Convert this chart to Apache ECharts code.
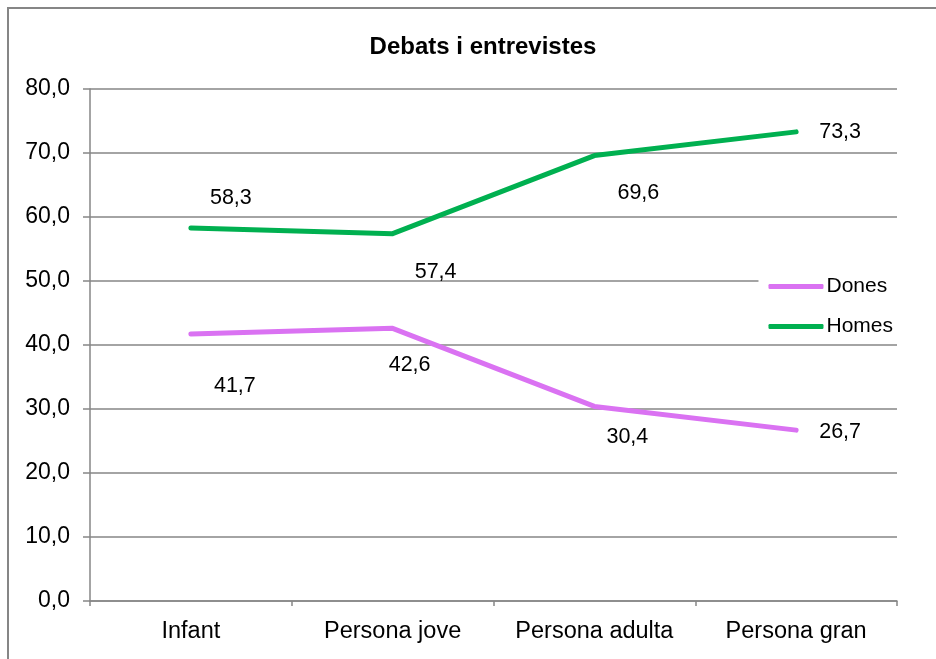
<!DOCTYPE html>
<html>
<head>
<meta charset="utf-8">
<script src="https://cdn.jsdelivr.net/npm/echarts@6/dist/echarts.min.js"></script>
<style>html,body{margin:0;padding:0;background:#fff}#c{width:936px;height:659px}</style>
</head>
<body>
<div id="c"></div>
<script>
const categories = ['Infant', 'Persona jove', 'Persona adulta', 'Persona gran'];
const dones = [41.7, 42.6, 30.4, 26.7];
const homes = [58.3, 57.4, 69.6, 73.3];
const yTicks = { min: 0, max: 80, interval: 10 };

// label offsets (style only)
const donesLabelOffsets = [[44, 52], [17, 37], [33, 31], [44, 2]];
const homesLabelOffsets = [[40, -30], [43, 38], [44, 38], [44, 0]];

const fmt = v => Number(v).toFixed(1).replace('.', ',');
const font = 'Liberation Sans, Arial, sans-serif';

function buildData(vals, offs) {
  return vals.map((v, i) => ({
    value: v,
    label: { offset: offs[i] }
  }));
}

const chart = echarts.init(document.getElementById('c'), null, { renderer: 'canvas' });
chart.setOption({
  animation: false,
  backgroundColor: '#fff',
  title: {
    text: 'Debats i entrevistes',
    left: 478, textAlign: 'center', top: 30,
    textStyle: { fontFamily: font, fontWeight: 'bold', fontSize: 24, color: '#000' }
  },
  graphic: [{
    type: 'rect', shape: { x: 8, y: 8, width: 1000, height: 1000 },
    style: { fill: 'none', stroke: '#868686', lineWidth: 2 }, z: 100
  }],
  legend: {
    orient: 'vertical', right: 39, top: 270,
    backgroundColor: '#fff', padding: [6, 4, 6, 10],
    itemWidth: 55, itemHeight: 5, itemGap: 19,
    icon: 'roundRect',
    textStyle: { fontFamily: font, fontSize: 21, color: '#000', padding: [0, 0, 0, -2] },
    data: ['Dones', 'Homes'], z: 10
  },
  grid: { left: 90, right: 39, top: 89, bottom: 58, containLabel: false },
  xAxis: {
    type: 'category', data: categories, boundaryGap: true,
    axisLine: { lineStyle: { color: '#868686', width: 1.5 } },
    axisTick: { show: true, interval: 0, length: 5, alignWithLabel: false, lineStyle: { color: '#868686', width: 1.5 } },
    axisLabel: { interval: 0, hideOverlap: false, fontFamily: font, fontSize: 23.5, color: '#000', margin: 19 }
  },
  yAxis: {
    type: 'value', min: yTicks.min, max: yTicks.max, interval: yTicks.interval,
    axisLine: { show: true, lineStyle: { color: '#868686', width: 1.5 } },
    axisTick: { show: true, length: 7, lineStyle: { color: '#868686', width: 1.5 } },
    splitLine: { lineStyle: { color: '#868686', width: 1.5 } },
    axisLabel: { fontFamily: font, fontSize: 23, color: '#000', margin: 20, formatter: fmt, padding: [3, 0, 0, 0] }
  },
  series: [
    {
      name: 'Dones', type: 'line', data: buildData(dones, donesLabelOffsets),
      color: '#DA72F2',
      lineStyle: { width: 5, color: '#DA72F2', cap: 'round', join: 'round' },
      symbol: 'circle', symbolSize: 1, showSymbol: true,
      itemStyle: { color: '#DA72F2' },
      label: { show: true, position: 'inside', formatter: p => fmt(p.value),
        fontFamily: font, fontSize: 21.5, color: '#000' },
      z: 3
    },
    {
      name: 'Homes', type: 'line', data: buildData(homes, homesLabelOffsets),
      color: '#00B050',
      lineStyle: { width: 5, color: '#00B050', cap: 'round', join: 'round' },
      symbol: 'circle', symbolSize: 1, showSymbol: true,
      itemStyle: { color: '#00B050' },
      label: { show: true, position: 'inside', formatter: p => fmt(p.value),
        fontFamily: font, fontSize: 21.5, color: '#000' },
      z: 3
    }
  ]
});
</script>
</body>
</html>
